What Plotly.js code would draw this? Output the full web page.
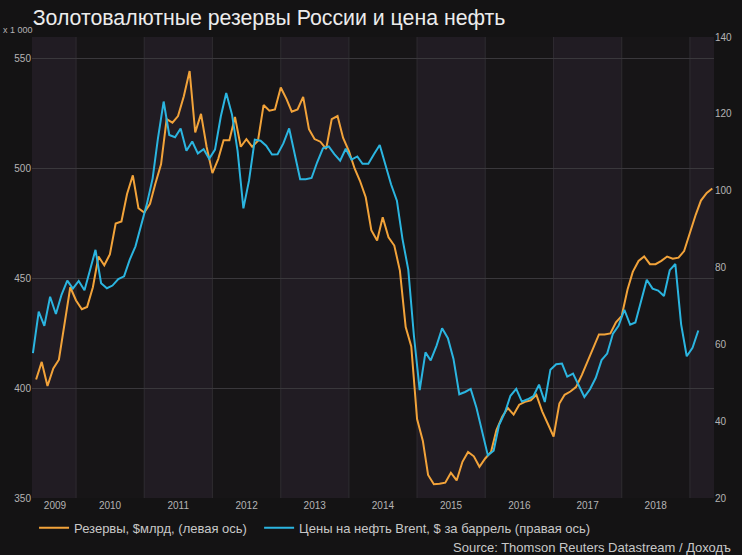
<!DOCTYPE html>
<html>
<head>
<meta charset="utf-8">
<script src="https://cdn.plot.ly/plotly-3.0.1.min.js"></script>
<style>html,body{margin:0;padding:0;background:#141314;}#chart{width:742px;height:555px;}</style>
</head>
<body>
<div id="chart"></div>
<script>
// ---- data ----
const reservesStart = [2009, 6];   // first month (start-of-month values)
const reserves = [
  404, 412, 401, 409, 413, 429, 446,
  440, 436, 437, 446, 460, 456, 461, 475, 476, 488.5, 497, 482,
  480, 484, 493, 502, 522.6, 521, 524, 533, 544.5, 516.5, 525, 510,
  498, 504.4, 513, 513, 523.6, 510, 513.5, 510, 512.7, 529, 526.4, 527,
  537, 531.7, 526, 527, 532.7, 518, 513.5, 512.3, 509, 522.6, 524, 514,
  508, 500, 494.5, 487, 472, 467.3, 477.9, 468.8, 465, 453.6, 427.9, 419,
  386, 376, 360.5, 356.3, 356.5, 357, 361.5, 358, 366.5, 371, 369, 364.2,
  368, 371, 381, 387, 391, 388, 392.5, 393.8, 394.5, 397, 389.5, 384,
  378, 393, 397, 398.5, 400.5, 406, 412, 418, 424.5, 424.5, 425, 430,
  433, 445, 453, 458, 460, 456.5, 456.5, 458, 460, 459, 459.5, 462.5,
  471, 479, 485.5, 489, 491
];
const oilStart = [2009, 5];        // first month (monthly averages)
const oil = [
  57.7, 68.5, 64.8, 72.4, 67.9, 72.9, 76.6, 74.5,
  76.5, 74.1, 79.0, 84.6, 75.9, 74.6, 75.3, 77.0, 77.7, 82.0, 85.5, 91.2,
  96.5, 103.2, 113.5, 123.2, 114.5, 113.9, 116.2, 110.4, 112.8, 109.7, 110.8, 108.3,
  110.7, 119.3, 125.4, 119.8, 110.3, 95.4, 102.6, 113.3, 113.0, 111.7, 109.4, 109.5,
  112.3, 116.2, 109.5, 103.0, 103.0, 103.3, 107.4, 111.0, 111.5, 109.5, 107.8, 110.9,
  108.1, 108.9, 107.0, 107.0, 109.5, 111.9, 106.8, 101.6, 97.4, 87.4, 79.4, 62.3,
  48.1, 57.9, 55.8, 59.6, 64.2, 61.6, 56.2, 47.0, 47.6, 48.4, 43.5, 37.5,
  31.1, 32.3, 39.0, 42.2, 46.6, 48.4, 45.1, 45.7, 46.5, 49.5, 45.0, 53.4,
  54.8, 55.0, 51.6, 52.4, 49.5, 46.3, 48.3, 51.3, 55.9, 57.6, 62.8, 64.8,
  69.0, 65.1, 65.7, 71.5, 76.8, 74.5, 74.0, 72.6, 79.3, 80.9, 65.2, 56.9,
  59.1, 63.6
];
const years = [2009, 2010, 2011, 2012, 2013, 2014, 2015, 2016, 2017, 2018];
const yearLabels = ['2009', '2010', '2011', '2012', '2013', '2014', '2015', '2016', '2017', '2018'];
const shadedYears = [2009, 2011, 2013, 2015, 2017, 2019];
const boundaryYears = [2010, 2011, 2012, 2013, 2014, 2015, 2016, 2017, 2018, 2019];

const titleText = 'Золотовалютные резервы России и цена нефть';
const nameReserves = 'Резервы, $млрд, (левая ось)';
const nameOil = 'Цены на нефть Brent, $ за баррель (правая ось)';
const sourceText = 'Source: Thomson Reuters Datastream / Доходъ';
const unitText = 'x 1 000';

// ---- helpers ----
function pad(n){return (n<10?'0':'')+n;}
function monthDates(start, n, day){
  const out=[]; let y=start[0], m=start[1];
  for(let i=0;i<n;i++){ out.push(y+'-'+pad(m)+'-'+pad(day)); m++; if(m>12){m=1;y++;} }
  return out;
}
const xStart = '2009-05-10', xEnd = '2019-05-10';
const tickVals = years.map(y => y===2009 ? '2009-09-10' : y+'-07-02');

const shapes = [];
shadedYears.forEach(y => {
  let x0 = y+'-01-01', x1 = (y+1)+'-01-01';
  if (x0 < xStart) x0 = xStart;
  if (x1 > xEnd) x1 = xEnd;
  shapes.push({type:'rect', xref:'x', yref:'paper', x0:x0, x1:x1, y0:0, y1:1,
    fillcolor:'#211c23', line:{width:0}, layer:'below'});
});
boundaryYears.forEach(y => {
  shapes.push({type:'line', xref:'x', yref:'paper', x0:y+'-01-01', x1:y+'-01-01', y0:0, y1:1,
    line:{color:'#2f2c31', width:1}, layer:'below'});
});

const traces = [
  {x: monthDates(reservesStart, reserves.length, 1), y: reserves, name: nameReserves,
   type:'scatter', mode:'lines', line:{color:'#f2a33a', width:2}, yaxis:'y', legend:'legend'},
  {x: monthDates(oilStart, oil.length, 15), y: oil, name: nameOil,
   type:'scatter', mode:'lines', line:{color:'#2bb5e0', width:2}, yaxis:'y2', legend:'legend2'}
];

const tickFont = {family:'Liberation Sans, Arial, sans-serif', size:10, color:'#b4b4b4'};
const legFont = {family:'Liberation Sans, Arial, sans-serif', size:13, color:'#c8c8c8'};
const layout = {
  width:742, height:555,
  paper_bgcolor:'#141314', plot_bgcolor:'#171517',
  margin:{l:32, r:28, t:37, b:57},
  title:{text:titleText, x:0.044, xref:'container', xanchor:'left', y:0.969, yref:'container', yanchor:'middle',
    font:{family:'Liberation Sans, Arial, sans-serif', size:21.3, color:'#ececec'}},
  showlegend:true,
  legend:{orientation:'h', x:0.003, xanchor:'left', y:-0.032, yanchor:'top', font:legFont, bgcolor:'rgba(0,0,0,0)'},
  legend2:{orientation:'h', x:0.333, xanchor:'left', y:-0.032, yanchor:'top', font:legFont, bgcolor:'rgba(0,0,0,0)'},
  xaxis:{type:'date', range:[xStart, xEnd], tickmode:'array', tickvals:tickVals, ticktext:yearLabels,
    showgrid:false, zeroline:false, showline:false, ticks:'', tickfont:tickFont},
  yaxis:{range:[350, 560], tickvals:[350,400,450,500,550], showgrid:true, gridcolor:'#3a383c', gridwidth:1,
    zeroline:false, showline:false, ticks:'', tickfont:tickFont},
  yaxis2:{range:[20, 140], dtick:20, tick0:20, overlaying:'y', side:'right', showgrid:false, zeroline:false,
    showline:false, ticks:'', tickfont:tickFont},
  shapes: shapes,
  annotations:[
    {text:sourceText, xref:'paper', yref:'paper', x:1.028, y:-0.108, xanchor:'right', yanchor:'middle',
     showarrow:false, font:{family:'Liberation Sans, Arial, sans-serif', size:13, color:'#c8c8c8'}},
    {text:unitText, xref:'paper', yref:'paper', x:-0.045, y:1.016, xanchor:'left', yanchor:'middle',
     showarrow:false, font:{family:'Liberation Sans, Arial, sans-serif', size:9, color:'#b4b4b4'}}
  ]
};
Plotly.newPlot('chart', traces, layout, {displayModeBar:false, staticPlot:true});
</script>
</body>
</html>
